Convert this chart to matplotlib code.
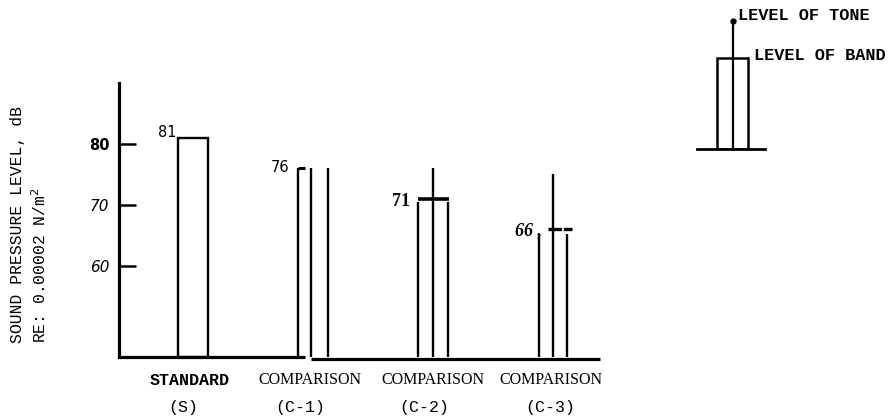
import matplotlib.pyplot as plt

# values (dB re 0.00002 N/m^2)
categories = ["STANDARD", "COMPARISON", "COMPARISON", "COMPARISON"]
codes = ["(S)", "(C-1)", "(C-2)", "(C-3)"]
band_level = [81, 76, 71, 66]
tone_level = [None, 76, 76, 75]
band_labels = ["81", "76", "71", "66 ,"]
ytick_values = [60, 70, 80]
baseline = 45
top_of_axis = 90

# legend sketch (relative heights)
legend_band = 1.0
legend_tone = 1.4

MONO = "Liberation Mono"
SERIF = "Liberation Serif"

fig = plt.figure(figsize=(8.91, 4.19), dpi=100)
ax = fig.add_axes([119 / 891, 62 / 419, 481 / 891, 274 / 419])
xmin, xmax = -0.617, 3.392
ax.set_xlim(xmin, xmax)
ax.set_ylim(baseline, top_of_axis)

for side in ["top", "right", "bottom"]:
    ax.spines[side].set_visible(False)
ax.spines["left"].set_linewidth(2.3)

# baseline, with the small break near C-1 seen in the original
ax.hlines(baseline, xmin, 1 - 0.125 + 0.06, color="black", lw=2.3, clip_on=False)
ax.hlines(baseline - 0.3, 1 - 0.02, xmax, color="black", lw=2.3, clip_on=False)

ax.set_xticks([])
ax.set_yticks(ytick_values, [str(v) for v in ytick_values])
ax.tick_params(axis="y", direction="in", length=12, width=1.8, pad=7,
               labelsize=10.5)
for lbl in ax.get_yticklabels():
    if lbl.get_text() == "80":
        lbl.set_fontweight("bold")
    else:
        lbl.set_fontstyle("italic")
        lbl.set_fontsize(11)

half = 0.125
lw = 1.7
for i, band in enumerate(band_level):
    tone = tone_level[i]
    if tone is None:
        ax.bar(i, band - baseline, bottom=baseline, width=2 * half,
               fill=False, edgecolor="black", linewidth=lw)
        continue
    if i == 1:
        ax.vlines([i - half, i + half], baseline, band, color="black", lw=lw)
        ax.hlines(band, i - half, i - half + 0.06, color="black", lw=2.2)
        ax.vlines(i - 0.017, baseline - 0.3, tone, color="black", lw=lw)
        continue
    if i == 2:
        ax.vlines([i - half, i + half], baseline, band - 0.6, color="black", lw=lw)
        ax.hlines(band, i - half, i + half + 0.01, color="black", lw=2.6)
    else:
        ax.vlines([i - half + 0.01, i + half - 0.01], baseline, band - 0.8,
                  color="black", lw=lw)
        ax.hlines(band, i - 0.04, i + 0.16, color="black", lw=2.4,
                  linestyles=(0, (4, 0.6)))
    ax.vlines(i, baseline, tone, color="black", lw=lw)

# value labels beside each band level
ax.text(0 - 0.135, band_level[0] + 0.8, band_labels[0], ha="right",
        va="center", fontsize=10.5)
ax.text(1 - 0.2, band_level[1] + 0.1, band_labels[1], ha="right",
        va="center", fontsize=10.5)
ax.text(2 - 0.19, band_level[2] - 0.5, band_labels[2], ha="right",
        va="center", fontsize=13, family=SERIF, fontweight="bold")
ax.text(3 - 0.09, band_level[3] - 0.3, band_labels[3], ha="right",
        va="center", fontsize=13, family=SERIF, fontweight="bold",
        fontstyle="italic")

# category labels under the axis
name_x_shift = [-0.025, -0.025, 0, -0.02]
code_x_shift = [-0.08, -0.11, -0.07, -0.02]
for i, (name, code) in enumerate(zip(categories, codes)):
    if i == 0:
        ax.text(i + name_x_shift[i], -0.085, name, transform=ax.get_xaxis_transform(),
                ha="center", va="center", family=MONO, fontweight="bold",
                fontsize=12)
    else:
        ax.text(i + name_x_shift[i], -0.085, name, transform=ax.get_xaxis_transform(),
                ha="center", va="center", family=SERIF, fontsize=11.5)
    ax.text(i + code_x_shift[i], -0.185, code, transform=ax.get_xaxis_transform(),
            ha="center", va="center", family=MONO, fontsize=12)

# y axis title, two typewritten lines
fig.text(18 / 891, 1 - 343 / 419, "SOUND PRESSURE LEVEL, dB", rotation=90,
         ha="center", va="bottom", family=MONO, fontsize=11.8)
fig.text(40 / 891, 1 - 343 / 419, "RE: 0.00002 N/m$^2$", rotation=90,
         ha="center", va="bottom", family=MONO, fontsize=11.8)

# legend sketch, top right
lax = fig.add_axes([697 / 891, 1 - 149 / 419, 68 / 891, 135 / 419])
lax.set_xlim(-1.15, 1.05)
lax.set_ylim(0, 1.48)
lax.set_xticks([])
lax.set_yticks([])
for side in ["top", "right", "left"]:
    lax.spines[side].set_visible(False)
lax.spines["bottom"].set_linewidth(2)
lax.bar(0, legend_band, width=1.0, fill=False, edgecolor="black", linewidth=1.8)
lax.vlines(0, 0, legend_tone, color="black", lw=1.6)
lax.plot([0], [legend_tone], "o", color="black", ms=3.5, clip_on=False)
lax.text(0.17, 1.46, "LEVEL OF TONE", ha="left", va="center", family=MONO,
         fontweight="bold", fontsize=12.2, clip_on=False)
lax.text(0.68, 1.03, "LEVEL OF BAND", ha="left", va="center", family=MONO,
         fontweight="bold", fontsize=12.2, clip_on=False)

fig.savefig("out.png", dpi=100, facecolor="white")
